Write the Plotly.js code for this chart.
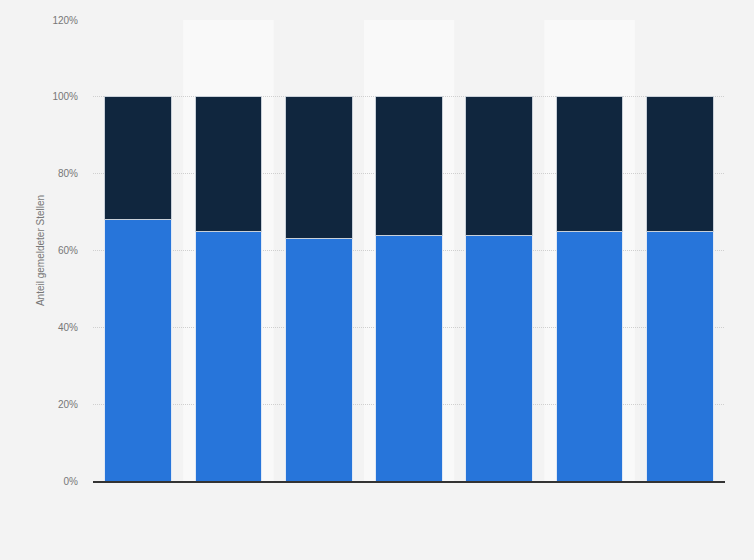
<!DOCTYPE html>
<html>
<head>
<meta charset="utf-8">
<script src="https://cdn.plot.ly/plotly-3.0.1.min.js"></script>
<style>
  html, body { margin: 0; padding: 0; background: #f3f3f3; }
  #chart { width: 754px; height: 560px; }
</style>
</head>
<body>
<div id="chart"></div>
<script>
// categories have no visible labels in the source chart
var categories = ['1', '2', '3', '4', '5', '6', '7'];
var lower = [68, 65, 63, 64, 64, 65, 65];
var upper = [32, 35, 37, 36, 36, 35, 35];
var yTicks = [0, 20, 40, 60, 80, 100, 120];
var yTickText = ['0%', '20%', '40%', '60%', '80%', '100%', '120%'];

var lowerTrace = {
    x: categories,
    y: lower,
    type: 'bar',
    name: 'Anteil 1',
    marker: { color: '#2775da', line: { color: '#dfe8f5', width: 1 } },
    hoverinfo: 'y'
};

var upperTrace = {
    x: categories,
    y: upper,
    type: 'bar',
    name: 'Anteil 2',
    marker: { color: '#10263e', line: { color: '#c9d0d8', width: 1 } },
    hoverinfo: 'y'
};

// lighter background band behind every second category
var bands = [];
for (var i = 1; i < categories.length; i += 2) {
    bands.push({
        type: 'rect', xref: 'x', yref: 'paper', layer: 'below',
        x0: i - 0.5, x1: i + 0.5, y0: 0, y1: 1,
        fillcolor: '#f9f9f9', line: { width: 0 }
    });
}

var layout = {
    barmode: 'stack',
    bargap: 0.26,
    showlegend: false,
    paper_bgcolor: '#f3f3f3',
    plot_bgcolor: '#f3f3f3',
    margin: { l: 93, r: 29, t: 20, b: 79 },
    font: { family: 'Liberation Sans, Arial, sans-serif', size: 10, color: '#666666' },
    shapes: bands,
    xaxis: {
        type: 'category',
        showticklabels: false,
        showgrid: false,
        zeroline: false,
        showline: true,
        linecolor: '#333333',
        linewidth: 1.5,
        ticks: ''
    },
    yaxis: {
        range: [0, 120],
        tickvals: yTicks,
        ticktext: yTickText,
        showgrid: true,
        gridcolor: '#cfcfcf',
        griddash: '1px,1px',
        gridwidth: 1,
        zeroline: false,
        ticks: '',
        ticklabelstandoff: 14,
        tickfont: { size: 10, color: '#777777' },
        title: {
            text: 'Anteil gemeldeter Stellen',
            font: { size: 10, color: '#777777' },
            standoff: 5
        }
    }
};

Plotly.newPlot(document.getElementById('chart'), [lowerTrace, upperTrace], layout, { displayModeBar: false });
</script>
</body>
</html>
